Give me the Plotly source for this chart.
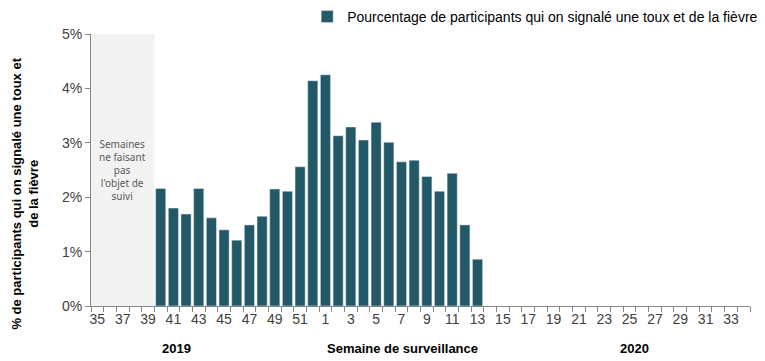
import plotly.graph_objects as go

weeks = [str(w) for w in range(35, 53)] + [str(w) for w in range(1, 35)]
pct = [None, None, None, None, None,
       2.16, 1.80, 1.69, 2.16, 1.62, 1.40, 1.21, 1.49, 1.65, 2.15, 2.11, 2.56, 4.14,
       4.25, 3.13, 3.29, 3.05, 3.38, 3.01, 2.65, 2.68, 2.38, 2.11, 2.44, 1.49, 0.86] + [None] * 21
not_monitored = ["35", "36", "37", "38", "39"]
series_name = "Pourcentage de participants qui on signalé une toux et de la fièvre"
y_ticks = [0, 1, 2, 3, 4, 5]
y_ticktext = ["0%", "1%", "2%", "3%", "4%", "5%"]

idx = list(range(len(weeks)))
bar_color = "#235867"
text_color = "#404040"

fig = go.Figure()
fig.add_trace(go.Bar(x=idx, y=pct, name=series_name, marker_color=bar_color,
                     showlegend=True))

i0 = weeks.index(not_monitored[0])
i1 = weeks.index(not_monitored[-1])
fig.add_shape(type="rect", xref="x", yref="y", x0=i0 - 0.5, x1=i1 + 0.5, y0=0, y1=5,
              fillcolor="#F2F2F2", line_width=0, layer="below")
fig.add_annotation(x=(i0 + i1) / 2, y=2.5, xref="x", yref="y",
                   text="Semaines<br>ne faisant<br>pas<br>l'objet de<br>suivi",
                   showarrow=False, font=dict(family="Noto Sans", size=10, color="#595959"))

for txt, xp in [("2019", 0.129), ("Semaine de surveillance", 0.472), ("2020", 0.824)]:
    fig.add_annotation(x=xp, y=-0.155, xref="paper", yref="paper", text="<b>%s</b>" % txt,
                       showarrow=False, xanchor="center", yanchor="middle",
                       font=dict(family="Liberation Sans", size=13, color="black"))

# y-axis title as rotated annotation
fig.add_annotation(x=-0.0994, y=0.415, xref="paper", yref="paper",
                   text="<b>% de participants qui on signalé une toux et<br>de la fièvre</b>",
                   textangle=-90, showarrow=False, xanchor="center", yanchor="middle",
                   align="center",
                   font=dict(family="Liberation Sans", size=13, color="black"))

# page body adds an 8px offset, so the figure is 8px smaller and margins shifted
fig.update_layout(
    width=757, height=353,
    margin=dict(l=83, r=15, t=26, b=55, autoexpand=False),
    plot_bgcolor="white", paper_bgcolor="white",
    bargap=0.2,
    font=dict(family="Liberation Sans", size=14, color=text_color),
    legend=dict(orientation="h", x=1.02, xanchor="right", y=1.0625, yanchor="middle",
                font=dict(size=14, color="black"), itemwidth=30,
                bgcolor="rgba(0,0,0,0)", tracegroupgap=0),
    xaxis=dict(range=[-0.5, len(weeks) - 0.5], tickmode="array", automargin=False,
               tickvals=idx[::2], ticktext=weeks[::2], ticks="outside", ticklen=0,
               showline=True, linecolor="#868686", linewidth=1,
               minor=dict(tickmode="linear", tick0=-0.5, dtick=1, ticks="outside",
                          ticklen=5, tickcolor="#868686"),
               showgrid=False, zeroline=False, tickfont=dict(size=14, color=text_color)),
    yaxis=dict(range=[0, 5], tickmode="array", tickvals=y_ticks, ticktext=y_ticktext,
               automargin=False,
               ticks="outside", ticklen=5, tickcolor="#868686",
               showline=True, linecolor="#868686", linewidth=1,
               showgrid=False, zeroline=False,
               tickfont=dict(size=14, color=text_color)),
)

fig.write_html("out.html")
